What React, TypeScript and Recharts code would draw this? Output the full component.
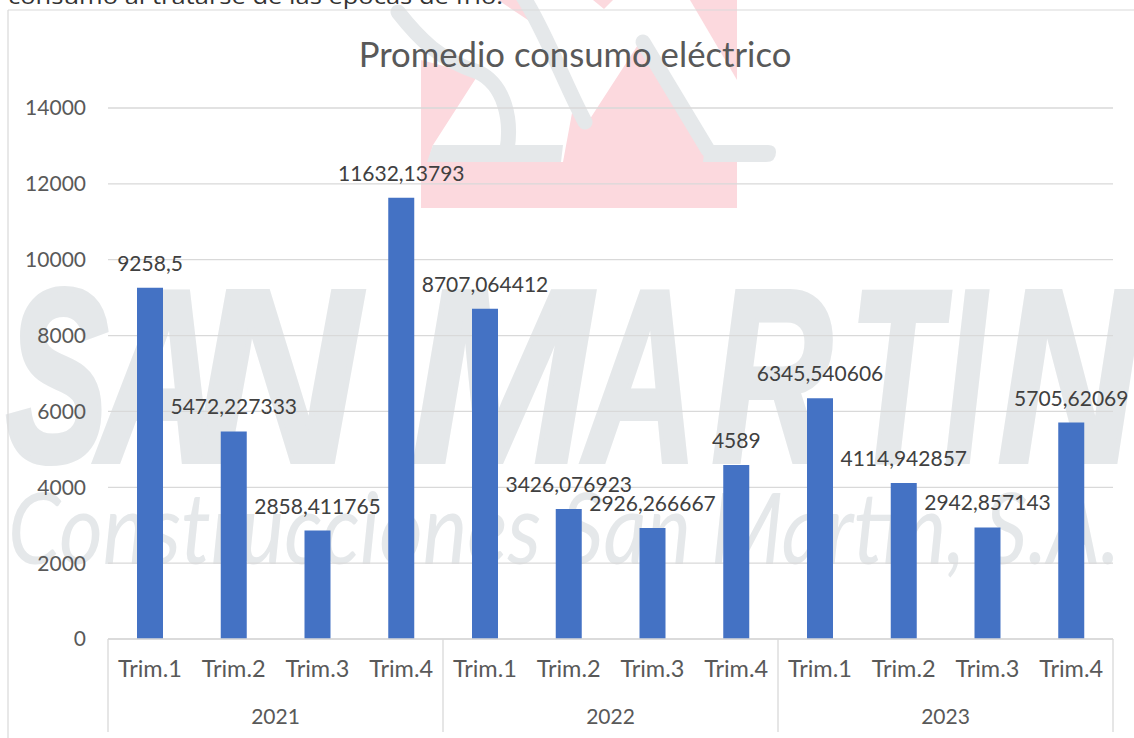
import React from 'react';
import { BarChart, Bar, XAxis, YAxis, CartesianGrid, LabelList } from 'recharts';

const years = ['2021', '2022', '2023'];
const quarters = ['Trim.1', 'Trim.2', 'Trim.3', 'Trim.4'];
const consumo = [
  9258.5, 5472.227333, 2858.411765, 11632.13793,
  8707.064412, 3426.076923, 2926.266667, 4589,
  6345.540606, 4114.942857, 2942.857143, 5705.62069,
];
const yTicks = [0, 2000, 4000, 6000, 8000, 10000, 12000, 14000];

const chartData = consumo.map((value, i) => ({
  key: i,
  trim: quarters[i % 4],
  year: years[Math.floor(i / 4)],
  value,
}));

const WIDTH = 1134;
const HEIGHT = 738;
const PLOT_LEFT = 108;
const PLOT_RIGHT = 1113;
const BAND = (PLOT_RIGHT - PLOT_LEFT) / consumo.length;

const FONT = 'Lato, "Open Sans", sans-serif';
const AXIS_GREY = '#d9d9d9';
const TICK_COLOR = '#595959';
const LABEL_COLOR = '#404040';
const WM_GREY = '#e5e8ea';
const WM_PINK = '#fcd9de';

// Watermark letters, each squeezed to its own slot: [glyph, left, width]
const logoLetters: [string, number, number][] = [
  ['S', 6, 102],
  ['A', 98, 122],
  ['N', 194, 165],
  ['M', 412, 178],
  ['A', 585, 112],
  ['R', 712, 120],
  ['T', 850, 90],
  ['I', 945, 40],
  ['N', 998, 140],
];

// Faded company logo that sits behind the chart
const Backdrop = () => (
  <svg width={WIDTH} height={HEIGHT} style={{ position: 'absolute', left: 0, top: 0 }}>
    <g fill={WM_PINK}>
      <polygon points="421,60 478,75 433,145 428,162 563,162 572,113 586,125 643,37 705,145 737,162 737,208 421,208" />
      <polygon points="498,0 532,0 540,28" />
      <polygon points="593,0 613,0 604,9" />
      <polygon points="690,0 737,0 737,80" />
    </g>
    <g fill="none" stroke={WM_GREY} strokeWidth={15} strokeLinecap="round">
      <path d="M398,12 C420,40 440,60 478,72 C505,85 512,120 507,150" />
      <path d="M522,-5 C545,30 565,85 585,122" />
      <path d="M643,42 L708,150" />
    </g>
    <path d="M433,145 H563 L561,162 H427 Z" fill={WM_GREY} />
    <path d="M705,145 H768 Q776,145 776,152 Q776,162 766,162 H703 Z" fill={WM_GREY} />
    {logoLetters.map(([glyph, left, w], i) => (
      <text
        key={i}
        x={left}
        y={461}
        fill={WM_GREY}
        stroke={WM_GREY}
        strokeWidth={6}
        fontFamily='"Liberation Sans", sans-serif'
        fontWeight="bold"
        fontStyle="italic"
        fontSize={245}
        textLength={w}
        lengthAdjust="spacingAndGlyphs"
      >
        {glyph}
      </text>
    ))}
    <text
      x={8}
      y={564}
      fill={WM_GREY}
      fontFamily={FONT}
      fontWeight={400}
      fontStyle="italic"
      fontSize={100}
      textLength={1112}
      lengthAdjust="spacingAndGlyphs"
    >
      Construcciones San Martin, S.A.
    </text>
    <text x={8} y={4} fill="#333333" fontFamily='"Open Sans", sans-serif' fontSize={21} textLength={495} lengthAdjust="spacingAndGlyphs">
      consumo al tratarse de las épocas de frío.
    </text>
    <line x1={8} y1={10} x2={WIDTH} y2={10} stroke={AXIS_GREY} strokeWidth={1.2} />
    <line x1={8} y1={10} x2={8} y2={HEIGHT} stroke={AXIS_GREY} strokeWidth={1.2} />
  </svg>
);

const QuarterTick = ({ x, y, payload }: any) => (
  <text x={x} y={y} dy={30} textAnchor="middle" fill={TICK_COLOR} fontFamily={FONT} fontSize={23.5}>
    {chartData[payload.value].trim}
  </text>
);

// Year row: label centred under its four quarters plus the separators between groups
const YearTick = ({ x, payload }: any) => {
  const i = payload.value;
  const top = 639;
  const bottom = 732;
  return (
    <g>
      {i % 4 === 0 && (
        <line x1={x - BAND / 2} y1={top} x2={x - BAND / 2} y2={bottom} stroke={AXIS_GREY} strokeWidth={1.3} />
      )}
      {i === consumo.length - 1 && (
        <line x1={x + BAND / 2} y1={top} x2={x + BAND / 2} y2={bottom} stroke={AXIS_GREY} strokeWidth={1.3} />
      )}
      {i % 4 === 1 && (
        <text x={x + BAND / 2} y={724} textAnchor="middle" fill={TICK_COLOR} fontFamily={FONT} fontSize={21}>
          {chartData[i].year}
        </text>
      )}
    </g>
  );
};

const App = () => (
  <div style={{ position: 'absolute', left: 0, top: 0, width: WIDTH, height: HEIGHT, overflow: 'hidden', background: '#fff' }}>
    <Backdrop />
    <div style={{ position: 'absolute', left: 0, top: 0 }}>
      <BarChart
        width={WIDTH}
        height={HEIGHT}
        data={chartData}
        margin={{ top: 108, right: WIDTH - PLOT_RIGHT, bottom: 0, left: 0 }}
      >
        <CartesianGrid vertical={false} stroke={AXIS_GREY} strokeWidth={1.3} />
        <XAxis
          dataKey="key"
          height={50}
          interval={0}
          tickLine={false}
          axisLine={{ stroke: AXIS_GREY, strokeWidth: 1.3 }}
          tick={<QuarterTick />}
        />
        <XAxis
          xAxisId="year"
          dataKey="key"
          height={49}
          interval={0}
          tickLine={false}
          axisLine={false}
          tick={<YearTick />}
        />
        <YAxis
          width={PLOT_LEFT}
          domain={[0, 14000]}
          ticks={yTicks}
          interval={0}
          axisLine={false}
          tickLine={false}
          tickMargin={16}
          tick={{ fill: TICK_COLOR, fontFamily: FONT, fontSize: 21 }}
        />
        <Bar dataKey="value" fill="#4472c4" barSize={26} isAnimationActive={false}>
          <LabelList
            dataKey="value"
            position="top"
            offset={17}
            formatter={(v: any) => String(v).replace('.', ',')}
            fill={LABEL_COLOR}
            fontFamily={FONT}
            fontSize={21}
          />
        </Bar>
      </BarChart>
    </div>
    <svg width={WIDTH} height={100} style={{ position: 'absolute', left: 0, top: 0, pointerEvents: 'none' }}>
      <text x={575} y={67} textAnchor="middle" fill={TICK_COLOR} fontFamily={FONT} fontSize={34.7}>
        Promedio consumo eléctrico
      </text>
    </svg>
  </div>
);

export default App;
